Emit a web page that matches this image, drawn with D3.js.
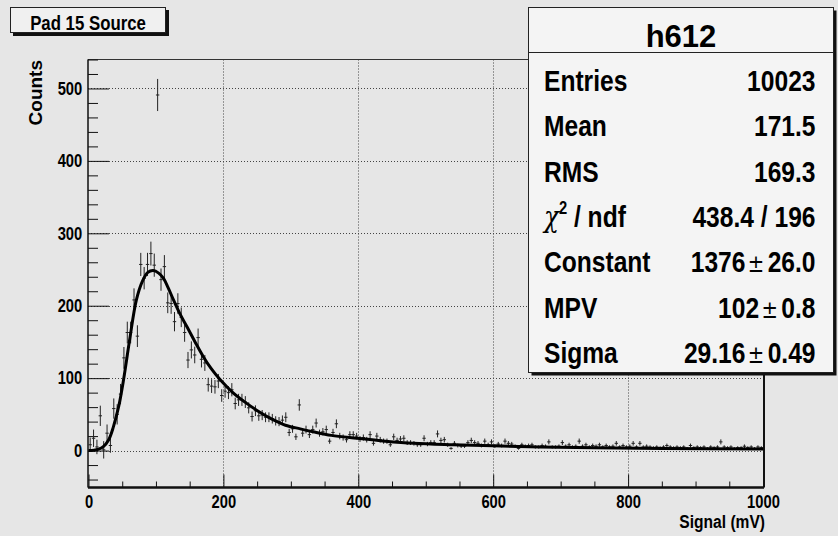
<!DOCTYPE html>
<html>
<head>
<meta charset="utf-8">
<script src="https://cdn.jsdelivr.net/npm/d3@7"></script>
<style>
  html, body { margin: 0; padding: 0; background: #e6e6e6; }
  svg { display: block; }
  text { font-family: "Liberation Sans", Arial, sans-serif; font-weight: bold; fill: #000; }
</style>
</head>
<body>
<svg id="chart"></svg>
<script>
// histogram h612 : 200 bins of 5 mV between 0 and 1000
const binLow = 0;
const binWidth = 5;
const counts = [
  8, 17, 5, 48, 1, 24, 7, 58, 50, 78,
  128, 163, 163, 208, 158, 257, 238, 257, 272, 256,
  491, 236, 254, 204, 203, 178, 203, 184, 163, 125,
  139, 132, 156, 126, 121, 91, 89, 88, 96, 76,
  82, 80, 84, 65, 70, 70, 67, 59, 47, 55,
  48, 49, 46, 46, 44, 41, 40, 42, 46, 25,
  30, 19, 63, 24, 29, 22, 29, 38, 24, 26,
  29, 13, 25, 37, 20, 18, 15, 22, 22, 20,
  16, 18, 15, 22, 10, 20, 15, 13, 13, 8,
  19, 14, 16, 17, 11, 11, 10, 8, 8, 17,
  9, 11, 11, 23, 14, 15, 8, 3, 10, 7,
  6, 6, 11, 14, 11, 10, 7, 13, 8, 12,
  6, 9, 7, 13, 10, 9, 6, 3, 8, 6,
  7, 8, 5, 5, 7, 6, 12, 5, 5, 6,
  11, 6, 8, 5, 6, 13, 6, 8, 5, 7,
  6, 8, 5, 7, 5, 6, 10, 5, 7, 5,
  6, 10, 5, 10, 5, 6, 5, 4, 5, 4,
  5, 7, 5, 4, 5, 4, 5, 3, 7, 4,
  5, 4, 5, 3, 5, 4, 5, 12, 5, 4,
  5, 3, 4, 4, 6, 4, 5, 3, 5, 4
];
// error bars of the first bins are wider than sqrt(N) in the picture
const lowErrors = [10, 12, 10, 14, 12, 12, 10, 14, 14, 14, 15, 15, 15, 16, 15, 16];

// Landau fit
const fitX = [0, 8, 15, 22, 30, 37, 45, 52, 61, 71, 80, 88, 96, 104, 111, 118, 126, 136, 146, 158, 170, 182, 195, 214, 234, 254, 274, 292, 314, 333, 360, 398, 440, 482, 540, 600, 670, 750, 850, 1000];
const fitY = [0, 0.5, 2, 5.5, 15, 33, 62, 98, 153, 208, 234, 246, 248.5, 245, 238, 225, 208, 188, 171, 150, 130, 113, 98, 80, 65.5, 53, 42.5, 35, 30, 26, 21, 17, 13, 10, 8, 6.5, 5, 4, 3, 2];

const statTitle = "h612";
const statLabels = ["Entries", "Mean", "RMS", "chi2", "Constant", "MPV", "Sigma"];
const statValues = ["10023", "171.5", "169.3", "438.4 / 196", ["1376", "26.0"], ["102", "0.8"], ["29.16", "0.49"]];

const xTicks = [0, 200, 400, 600, 800, 1000];
const yTicks = [0, 100, 200, 300, 400, 500];

const width = 838, height = 536;
const frame = {left: 88, right: 764, top: 59.5, bottom: 487.5};
const narrow = 0.82;

const svg = d3.select("#chart").attr("width", width).attr("height", height);
svg.append("rect").attr("width", width).attr("height", height).attr("fill", "#e6e6e6");

const x = d3.scaleLinear().domain([0, 1000]).range([88.5, 763]);
const y = d3.scaleLinear().domain([-51, 540]).range([frame.bottom, frame.top]);

// condensed bold text, like the ROOT canvas font
function label(parent, px, py, size, anchor, sx) {
  return parent.append("g")
    .attr("transform", `translate(${px},${py}) scale(${sx || narrow},1)`)
    .append("text")
    .attr("font-size", size)
    .attr("text-anchor", anchor);
}

svg.append("clipPath").attr("id", "clip")
  .append("rect")
  .attr("x", frame.left).attr("y", frame.top)
  .attr("width", frame.right - frame.left).attr("height", frame.bottom - frame.top);

// grid
const grid = svg.append("g").attr("stroke", "#444").attr("stroke-width", 1).attr("stroke-dasharray", "1,2");
grid.selectAll(".gx").data(xTicks.filter(d => d > 0)).enter().append("line")
  .attr("x1", d => Math.round(x(d)) + 0.5).attr("x2", d => Math.round(x(d)) + 0.5)
  .attr("y1", frame.top).attr("y2", frame.bottom);
grid.selectAll(".gy").data(yTicks).enter().append("line")
  .attr("x1", frame.left).attr("x2", frame.right)
  .attr("y1", d => Math.round(y(d)) + 0.5).attr("y2", d => Math.round(y(d)) + 0.5);

// frame border
svg.append("line").attr("x1", frame.left).attr("x2", frame.right).attr("y1", frame.top).attr("y2", frame.top)
  .attr("stroke", "#333").attr("stroke-width", 1);
svg.append("line").attr("x1", frame.right).attr("x2", frame.right).attr("y1", frame.top).attr("y2", frame.bottom)
  .attr("stroke", "#111").attr("stroke-width", 2);

// axes
const yMinor = d3.range(-40, 541, 20).filter(d => d % 100 !== 0);
const xMinor = d3.range(50, 1000, 50).filter(d => d % 200 !== 0);

const gY = svg.append("g").attr("transform", `translate(${frame.left},0)`);
gY.call(d3.axisLeft(y).tickValues(yTicks).tickSize(-21).tickPadding(7).tickFormat(d3.format("d")));
gY.append("g").call(d3.axisLeft(y).tickValues(yMinor).tickSize(-10).tickFormat(""));
gY.selectAll(".domain").attr("stroke", "#111").attr("d", `M0,${frame.top}V${frame.bottom}`);
gY.selectAll("line").attr("stroke", "#111");
gY.selectAll("text").attr("font-size", 18).attr("font-family", null).attr("fill", "#000")
  .attr("transform", `scale(${narrow},1)`);

const gX = svg.append("g").attr("transform", `translate(0,${frame.bottom})`);
gX.call(d3.axisBottom(x).tickValues(xTicks).tickSize(-13).tickPadding(8).tickFormat(d3.format("d")));
gX.append("g").call(d3.axisBottom(x).tickValues(xMinor).tickSize(-6).tickFormat(""));
gX.selectAll(".domain").attr("stroke", "#111").attr("stroke-width", 2).attr("d", `M${frame.left},0H${frame.right}`);
gX.selectAll("line").attr("stroke", "#111");
gX.selectAll("text").attr("font-size", 18).attr("font-family", null).attr("fill", "#000")
  .attr("transform", `scale(${narrow},1)`);
svg.selectAll(".domain").attr("fill", "none");

svg.append("text").attr("transform", "translate(42,60) rotate(-90)")
  .attr("text-anchor", "end").attr("font-size", 19).text("Counts");
label(svg, 765, 528, 19, "end").text("Signal (mV)");

// histogram points with error bars
const bins = counts.map((c, i) => ({
  lo: binLow + i * binWidth,
  hi: binLow + (i + 1) * binWidth,
  c: c,
  e: i < lowErrors.length ? lowErrors[i] : Math.sqrt(c)
}));
const pts = svg.append("g").attr("clip-path", "url(#clip)").attr("stroke", "#222").attr("stroke-width", 1);
pts.selectAll(".ex").data(bins).enter().append("line")
  .attr("x1", d => x(d.lo)).attr("x2", d => x(d.hi))
  .attr("y1", d => y(d.c)).attr("y2", d => y(d.c));
pts.selectAll(".ey").data(bins).enter().append("line")
  .attr("x1", d => x((d.lo + d.hi) / 2)).attr("x2", d => x((d.lo + d.hi) / 2))
  .attr("y1", d => y(d.c - d.e)).attr("y2", d => y(d.c + d.e));

// fit curve
const fitLine = d3.line().x(d => x(d[0])).y(d => y(d[1])).curve(d3.curveCatmullRom);
svg.append("path").datum(fitX.map((v, i) => [v, fitY[i]]))
  .attr("clip-path", "url(#clip)")
  .attr("d", fitLine).attr("fill", "none").attr("stroke", "#000").attr("stroke-width", 3);

// title box
svg.append("rect").attr("x", 13).attr("y", 10).attr("width", 156).attr("height", 26).attr("fill", "#111");
svg.append("rect").attr("x", 10.5).attr("y", 7.5).attr("width", 155).attr("height", 25)
  .attr("fill", "#f0f0f0").attr("stroke", "#222").attr("stroke-width", 1);
label(svg, 88, 30, 21, "middle", 0.8).text("Pad 15 Source");

// stats box
const sb = {x: 528.5, y: 7.5, w: 305, h: 365};
svg.append("rect").attr("x", sb.x + 3).attr("y", sb.y + 3).attr("width", sb.w).attr("height", sb.h).attr("fill", "#111");
svg.append("rect").attr("x", sb.x).attr("y", sb.y).attr("width", sb.w).attr("height", sb.h)
  .attr("fill", "#f4f4f4").attr("stroke", "#222").attr("stroke-width", 1);
svg.append("line").attr("x1", sb.x).attr("x2", sb.x + sb.w).attr("y1", 52.5).attr("y2", 52.5).attr("stroke", "#222");
svg.append("text").attr("x", 681).attr("y", 46.5).attr("text-anchor", "middle").attr("font-size", 31).text(statTitle);

const rowY = i => 90.7 + i * 45.4;
statLabels.forEach((lab, i) => {
  const t = label(svg, 544, rowY(i), 30, "start");
  if (lab === "chi2") {
    t.append("tspan").attr("font-weight", "normal").attr("font-family", "DejaVu Serif").attr("font-style", "italic").text("\u03C7");
    t.append("tspan").attr("font-size", 18).attr("dy", -13).text("2");
    t.append("tspan").attr("dy", 13).text(" / ndf");
  } else {
    t.text(lab);
  }
  const v = statValues[i];
  const tv = label(svg, 815.5, rowY(i), 30, "end");
  if (Array.isArray(v)) {
    tv.append("tspan").text(v[0]);
    tv.append("tspan").attr("dx", 3).attr("font-weight", "normal").attr("font-family", "DejaVu Sans").attr("font-size", 24).text("\u00B1");
    tv.append("tspan").attr("dx", 4).text(v[1]);
  } else {
    tv.text(v);
  }
});
</script>
</body>
</html>
